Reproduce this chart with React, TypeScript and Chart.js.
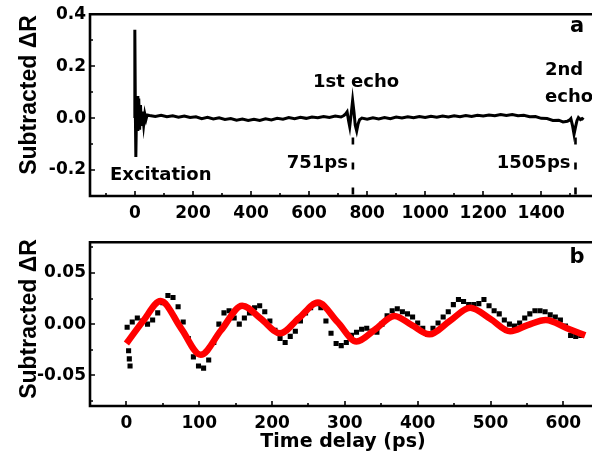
import React, { useEffect, useRef } from "react";
import { Chart, registerables } from "chart.js";
Chart.register(...registerables);

const TXT = '"DejaVu Sans", "Liberation Sans", sans-serif';
const TTL = '"Liberation Sans", Arial, sans-serif';

// ---------- Panel a: full trace ----------
const traceT = [
  -3, -1, 0, 1.5, 3, 5, 7, 10, 13, 16, 19, 22, 26, 30, 34, 38, 42,
  50, 70, 90, 110, 130, 150, 170, 190, 210, 230, 250, 270, 290, 310, 330, 350, 370, 390,
  410, 430, 450, 470, 490, 510, 530, 550, 570, 590, 610, 630, 650, 670, 690, 710, 720,
  726, 731, 736, 740, 745, 750, 755, 759, 764, 769, 774, 782,
  800, 820, 840, 860, 880, 900, 920, 940, 960, 980, 1000, 1020, 1040, 1060, 1080, 1100,
  1120, 1140, 1160, 1180, 1200, 1220, 1240, 1260, 1280, 1300, 1320, 1340, 1360, 1380,
  1400, 1420, 1440, 1460, 1475, 1490, 1497,
  1502, 1508, 1513, 1518, 1523, 1528, 1535, 1541, 1546,
];
const traceV = [
  0.0, 0.0, 0.34, 0.0, -0.15, 0.0, 0.085, -0.05, 0.075, -0.045, 0.05, -0.03, 0.025, -0.025, 0.015, -0.005, 0.012,
  0.010, 0.006, 0.011, 0.005, 0.009, 0.003, 0.008, 0.002, 0.005, -0.002, 0.003, -0.003, 0.001, -0.005, -0.002, -0.008, -0.004, -0.009,
  -0.005, -0.009, -0.003, -0.007, -0.001, -0.004, 0.002, -0.002, 0.003, -0.001, 0.004, 0.001, 0.006, 0.002, 0.008, 0.004, 0.010,
  0.016, 0.024, -0.010, -0.033, 0.015, 0.068, 0.02, -0.028, -0.05, -0.022, -0.006, 0.0,
  -0.004, 0.001, -0.003, 0.002, -0.002, 0.004, 0.0, 0.005, 0.001, 0.006, 0.002, 0.007, 0.003, 0.008, 0.004, 0.009,
  0.005, 0.010, 0.006, 0.011, 0.008, 0.012, 0.009, 0.014, 0.010, 0.014, 0.009, 0.011, 0.005, 0.006,
  -0.001, -0.002, -0.009, -0.008, -0.015, -0.012, -0.008,
  -0.002, -0.03, -0.062, -0.035, -0.01, 0.002, -0.006, -0.002, -0.006,
];
const echoMarkerT = [751, 1518];
const echoMarkerLabels = ["751ps", "1505ps"];
const aXLabels = [0, 200, 400, 600, 800, 1000, 1200, 1400];
const aYLabels = [-0.2, 0.0, 0.2, 0.4];

// ---------- Panel b: zoomed data + fit ----------
const dataT = [
  1, 3, 4, 5, 8, 15, 22, 29, 36, 43, 50, 57, 64, 71, 78, 85, 92, 99, 106, 113, 120, 127, 134, 141, 148,
  155, 162, 169, 176, 183, 190, 197, 204, 211, 218, 225, 232, 239, 246, 253, 260, 267, 274, 281, 288,
  295, 302, 309, 316, 323, 330, 337, 344, 351, 358, 365, 372, 379, 386, 393, 400, 407, 414, 421, 428,
  435, 442, 449, 456, 463, 470, 477, 484, 491, 498, 505, 512, 519, 526, 533, 540, 547, 554, 561, 568,
  575, 582, 589, 596, 603, 610, 617, 624,
];
const dataV = [
  -0.003, -0.026, -0.034, -0.041, 0.002, 0.006, 0.003, 0.0, 0.004, 0.011, 0.021, 0.028, 0.026, 0.017, 0.002,
  -0.014, -0.032, -0.041, -0.043, -0.035, -0.018, 0.0, 0.011, 0.013, 0.006,
  0.0, 0.006, 0.011, 0.016, 0.018, 0.012, 0.003, -0.006, -0.014, -0.018, -0.012, -0.007, 0.003, 0.011, 0.016,
  0.020, 0.016, 0.003, -0.009, -0.019,
  -0.021, -0.018, -0.011, -0.008, -0.005, -0.004, -0.007, -0.008, 0.0, 0.008, 0.013, 0.015, 0.012, 0.010, 0.007,
  0.001, -0.004, -0.010, -0.004, 0.001,
  0.007, 0.012, 0.019, 0.024, 0.022, 0.019, 0.019, 0.020, 0.024, 0.018, 0.013, 0.010, 0.004, 0.0, -0.002,
  0.001, 0.006, 0.010, 0.013, 0.013,
  0.012, 0.009, 0.007, 0.004, -0.002, -0.011, -0.012, -0.011,
];
const fitT = [0, 23, 47, 75, 102, 130, 159, 185, 211, 237, 263, 290, 316, 342, 368, 392, 416, 444, 472, 500, 527, 551, 576, 605, 630];
const fitV = [-0.019, 0.003, 0.0225, -0.004, -0.030, -0.006, 0.018, 0.005, -0.009, 0.006, 0.021, 0.002, -0.017, -0.005, 0.008, -0.001, -0.010, 0.003, 0.016, 0.005, -0.007, -0.001, 0.004, -0.004, -0.011];
const bXLabels = [0, 100, 200, 300, 400, 500, 600];
const bYLabels = [-0.05, 0.0, 0.05];

type FrameCfg = {
  xMinorStart: number; xMinorEnd: number; xMinorStep: number; xMajorStep: number;
  yMinorStart: number; yMinorEnd: number; yMinorStep: number; yMajorStep: number;
  extra?: (chart: any, ctx: CanvasRenderingContext2D) => void;
};

function isMult(v: number, step: number) {
  const r = v / step;
  return Math.abs(r - Math.round(r)) < 1e-6;
}

function framePlugin(cfg: FrameCfg) {
  return {
    id: "frame",
    afterDraw(chart: any) {
      const { ctx, chartArea } = chart;
      const { left, top, right, bottom } = chartArea;
      const xs = chart.scales.x;
      const ys = chart.scales.y;
      ctx.save();
      ctx.strokeStyle = "#000";
      ctx.lineWidth = 1.6;
      ctx.beginPath();
      for (let v = cfg.xMinorStart; v <= cfg.xMinorEnd + 1e-9; v += cfg.xMinorStep) {
        const px = Math.round(xs.getPixelForValue(v));
        ctx.moveTo(px, bottom);
        ctx.lineTo(px, bottom - (isMult(v, cfg.xMajorStep) ? 5 : 3));
      }
      for (let v = cfg.yMinorStart; v <= cfg.yMinorEnd + 1e-9; v += cfg.yMinorStep) {
        const py = Math.round(ys.getPixelForValue(v));
        ctx.moveTo(left, py);
        ctx.lineTo(left + (isMult(v, cfg.yMajorStep) ? 5 : 3), py);
      }
      ctx.stroke();
      ctx.lineWidth = 2.6;
      ctx.lineJoin = "miter";
      ctx.beginPath();
      ctx.moveTo(right + 20, top);
      ctx.lineTo(left, top);
      ctx.lineTo(left, bottom);
      ctx.lineTo(right + 20, bottom);
      ctx.stroke();
      if (cfg.extra) cfg.extra(chart, ctx);
      ctx.restore();
    },
  };
}

function yTitle(ctx: CanvasRenderingContext2D, cx: number, cy: number) {
  ctx.save();
  ctx.translate(cx, cy);
  ctx.rotate(-Math.PI / 2);
  ctx.fillStyle = "#000";
  ctx.font = `bold 23px ${TTL}`;
  ctx.textAlign = "center";
  ctx.textBaseline = "middle";
  ctx.fillText("Subtracted \u0394R", 0, 0);
  ctx.restore();
}

const tickFont = { family: TXT, size: 17, weight: "bold" as const };

function fixedTicks(values: number[]) {
  return (s: any) => {
    s.ticks = values.map((v) => ({ value: v }));
  };
}

export default function App() {
  const refA = useRef<HTMLCanvasElement>(null);
  const refB = useRef<HTMLCanvasElement>(null);

  useEffect(() => {
    const chartA = new Chart(refA.current!, {
      type: "line",
      data: {
        datasets: [
          {
            data: traceT.map((t, i) => ({ x: t, y: traceV[i] })),
            borderColor: "#000",
            borderWidth: 3,
            pointRadius: 0,
            tension: 0,
            fill: false,
          },
        ],
      },
      options: {
        animation: false,
        responsive: false,
        devicePixelRatio: 1,
        layout: { padding: { top: 12, right: 5, left: 0, bottom: 0 } },
        plugins: { legend: { display: false }, tooltip: { enabled: false } },
        scales: {
          x: {
            type: "linear",
            min: -155,
            max: 1599,
            grid: { display: false, drawTicks: false },
            border: { display: false },
            afterBuildTicks: fixedTicks(aXLabels),
            ticks: { font: tickFont, color: "#000", padding: 7, maxRotation: 0, autoSkip: false, callback: (v: any) => String(v) },
            afterFit: (s: any) => { s.height = 32; },
          },
          y: {
            min: -0.3,
            max: 0.4,
            grid: { display: false, drawTicks: false },
            border: { display: false },
            afterBuildTicks: fixedTicks(aYLabels),
            ticks: {
              font: tickFont,
              color: "#000",
              padding: 4,
              autoSkip: false,
              callback: (v: any) => Number(v).toFixed(1),
            },
            afterFit: (s: any) => { s.width = 90; },
          },
        },
      },
      plugins: [
        framePlugin({
          xMinorStart: -100, xMinorEnd: 1500, xMinorStep: 100, xMajorStep: 200,
          yMinorStart: -0.3, yMinorEnd: 0.4, yMinorStep: 0.1, yMajorStep: 0.2,
          extra: (chart, ctx) => {
            const xs = chart.scales.x;
            const ys = chart.scales.y;
            const bottom = chart.chartArea.bottom;
            ctx.strokeStyle = "#000";
            ctx.lineWidth = 2.6;
            ctx.setLineDash([7, 18]);
            echoMarkerT.forEach((t) => {
              const px = xs.getPixelForValue(t);
              ctx.beginPath();
              ctx.moveTo(px, ys.getPixelForValue(-0.075));
              ctx.lineTo(px, bottom);
              ctx.stroke();
            });
            ctx.setLineDash([]);
            ctx.fillStyle = "#000";
            ctx.font = `bold 18px ${TXT}`;
            ctx.textBaseline = "middle";
            ctx.textAlign = "right";
            echoMarkerT.forEach((t, i) => {
              const px = xs.getPixelForValue(t);
              ctx.fillText(echoMarkerLabels[i], px - 5, 163);
            });
            ctx.textAlign = "left";
            ctx.fillText("Excitation", 110, 175);
            ctx.fillText("2nd", 545, 70);
            ctx.fillText("echo", 545, 97);
            ctx.textAlign = "center";
            ctx.fillText("1st echo", 356, 82);
            ctx.font = `bold 21px ${TXT}`;
            ctx.fillText("a", 577, 27);
            yTitle(ctx, 30, 95);
          },
        }),
      ],
    } as any);

    const chartB = new Chart(refB.current!, {
      type: "line",
      data: {
        datasets: [
          {
            data: fitT.map((t, i) => ({ x: t, y: fitV[i] })),
            borderColor: "#ff0000",
            borderWidth: 6.5,
            pointRadius: 0,
            cubicInterpolationMode: "monotone",
            fill: false,
          },
          {
            data: dataT.map((t, i) => ({ x: t, y: dataV[i] })),
            showLine: false,
            pointStyle: "rect",
            pointRadius: 3.6,
            pointBackgroundColor: "#000",
            pointBorderWidth: 0,
            borderColor: "#000",
          },
        ],
      },
      options: {
        animation: false,
        responsive: false,
        devicePixelRatio: 1,
        layout: { padding: { top: 4, right: 5, left: 0, bottom: 0 } },
        plugins: { legend: { display: false }, tooltip: { enabled: false } },
        scales: {
          x: {
            type: "linear",
            min: -50,
            max: 649,
            grid: { display: false, drawTicks: false },
            border: { display: false },
            afterBuildTicks: fixedTicks(bXLabels),
            ticks: { font: tickFont, color: "#000", padding: 7, maxRotation: 0, autoSkip: false, callback: (v: any) => String(v) },
            afterFit: (s: any) => { s.height = 52; },
          },
          y: {
            min: -0.08,
            max: 0.08,
            grid: { display: false, drawTicks: false },
            border: { display: false },
            afterBuildTicks: fixedTicks(bYLabels),
            ticks: {
              font: tickFont,
              color: "#000",
              padding: 4,
              autoSkip: false,
              callback: (v: any) => Number(v).toFixed(2),
            },
            afterFit: (s: any) => { s.width = 90; },
          },
        },
      },
      plugins: [
        framePlugin({
          xMinorStart: -50, xMinorEnd: 600, xMinorStep: 50, xMajorStep: 100,
          yMinorStart: -0.075, yMinorEnd: 0.075, yMinorStep: 0.025, yMajorStep: 0.05,
          extra: (chart, ctx) => {
            ctx.fillStyle = "#000";
            ctx.textAlign = "center";
            ctx.textBaseline = "middle";
            ctx.font = `bold 21px ${TXT}`;
            ctx.fillText("b", 577, 30);
            ctx.font = `bold 19px ${TXT}`;
            ctx.fillText("Time delay (ps)", 343, 214);
            yTitle(ctx, 30, 91);
          },
        }),
      ],
    } as any);

    return () => {
      chartA.destroy();
      chartB.destroy();
    };
  }, []);

  return (
    <div style={{ position: "absolute", left: 0, top: 0, width: 592, height: 458, overflow: "hidden", background: "#fff" }}>
      <canvas ref={refA} width={604} height={228} style={{ position: "absolute", left: 0, top: 0, width: 604, height: 228 }} />
      <canvas ref={refB} width={604} height={230} style={{ position: "absolute", left: 0, top: 228, width: 604, height: 230 }} />
    </div>
  );
}
